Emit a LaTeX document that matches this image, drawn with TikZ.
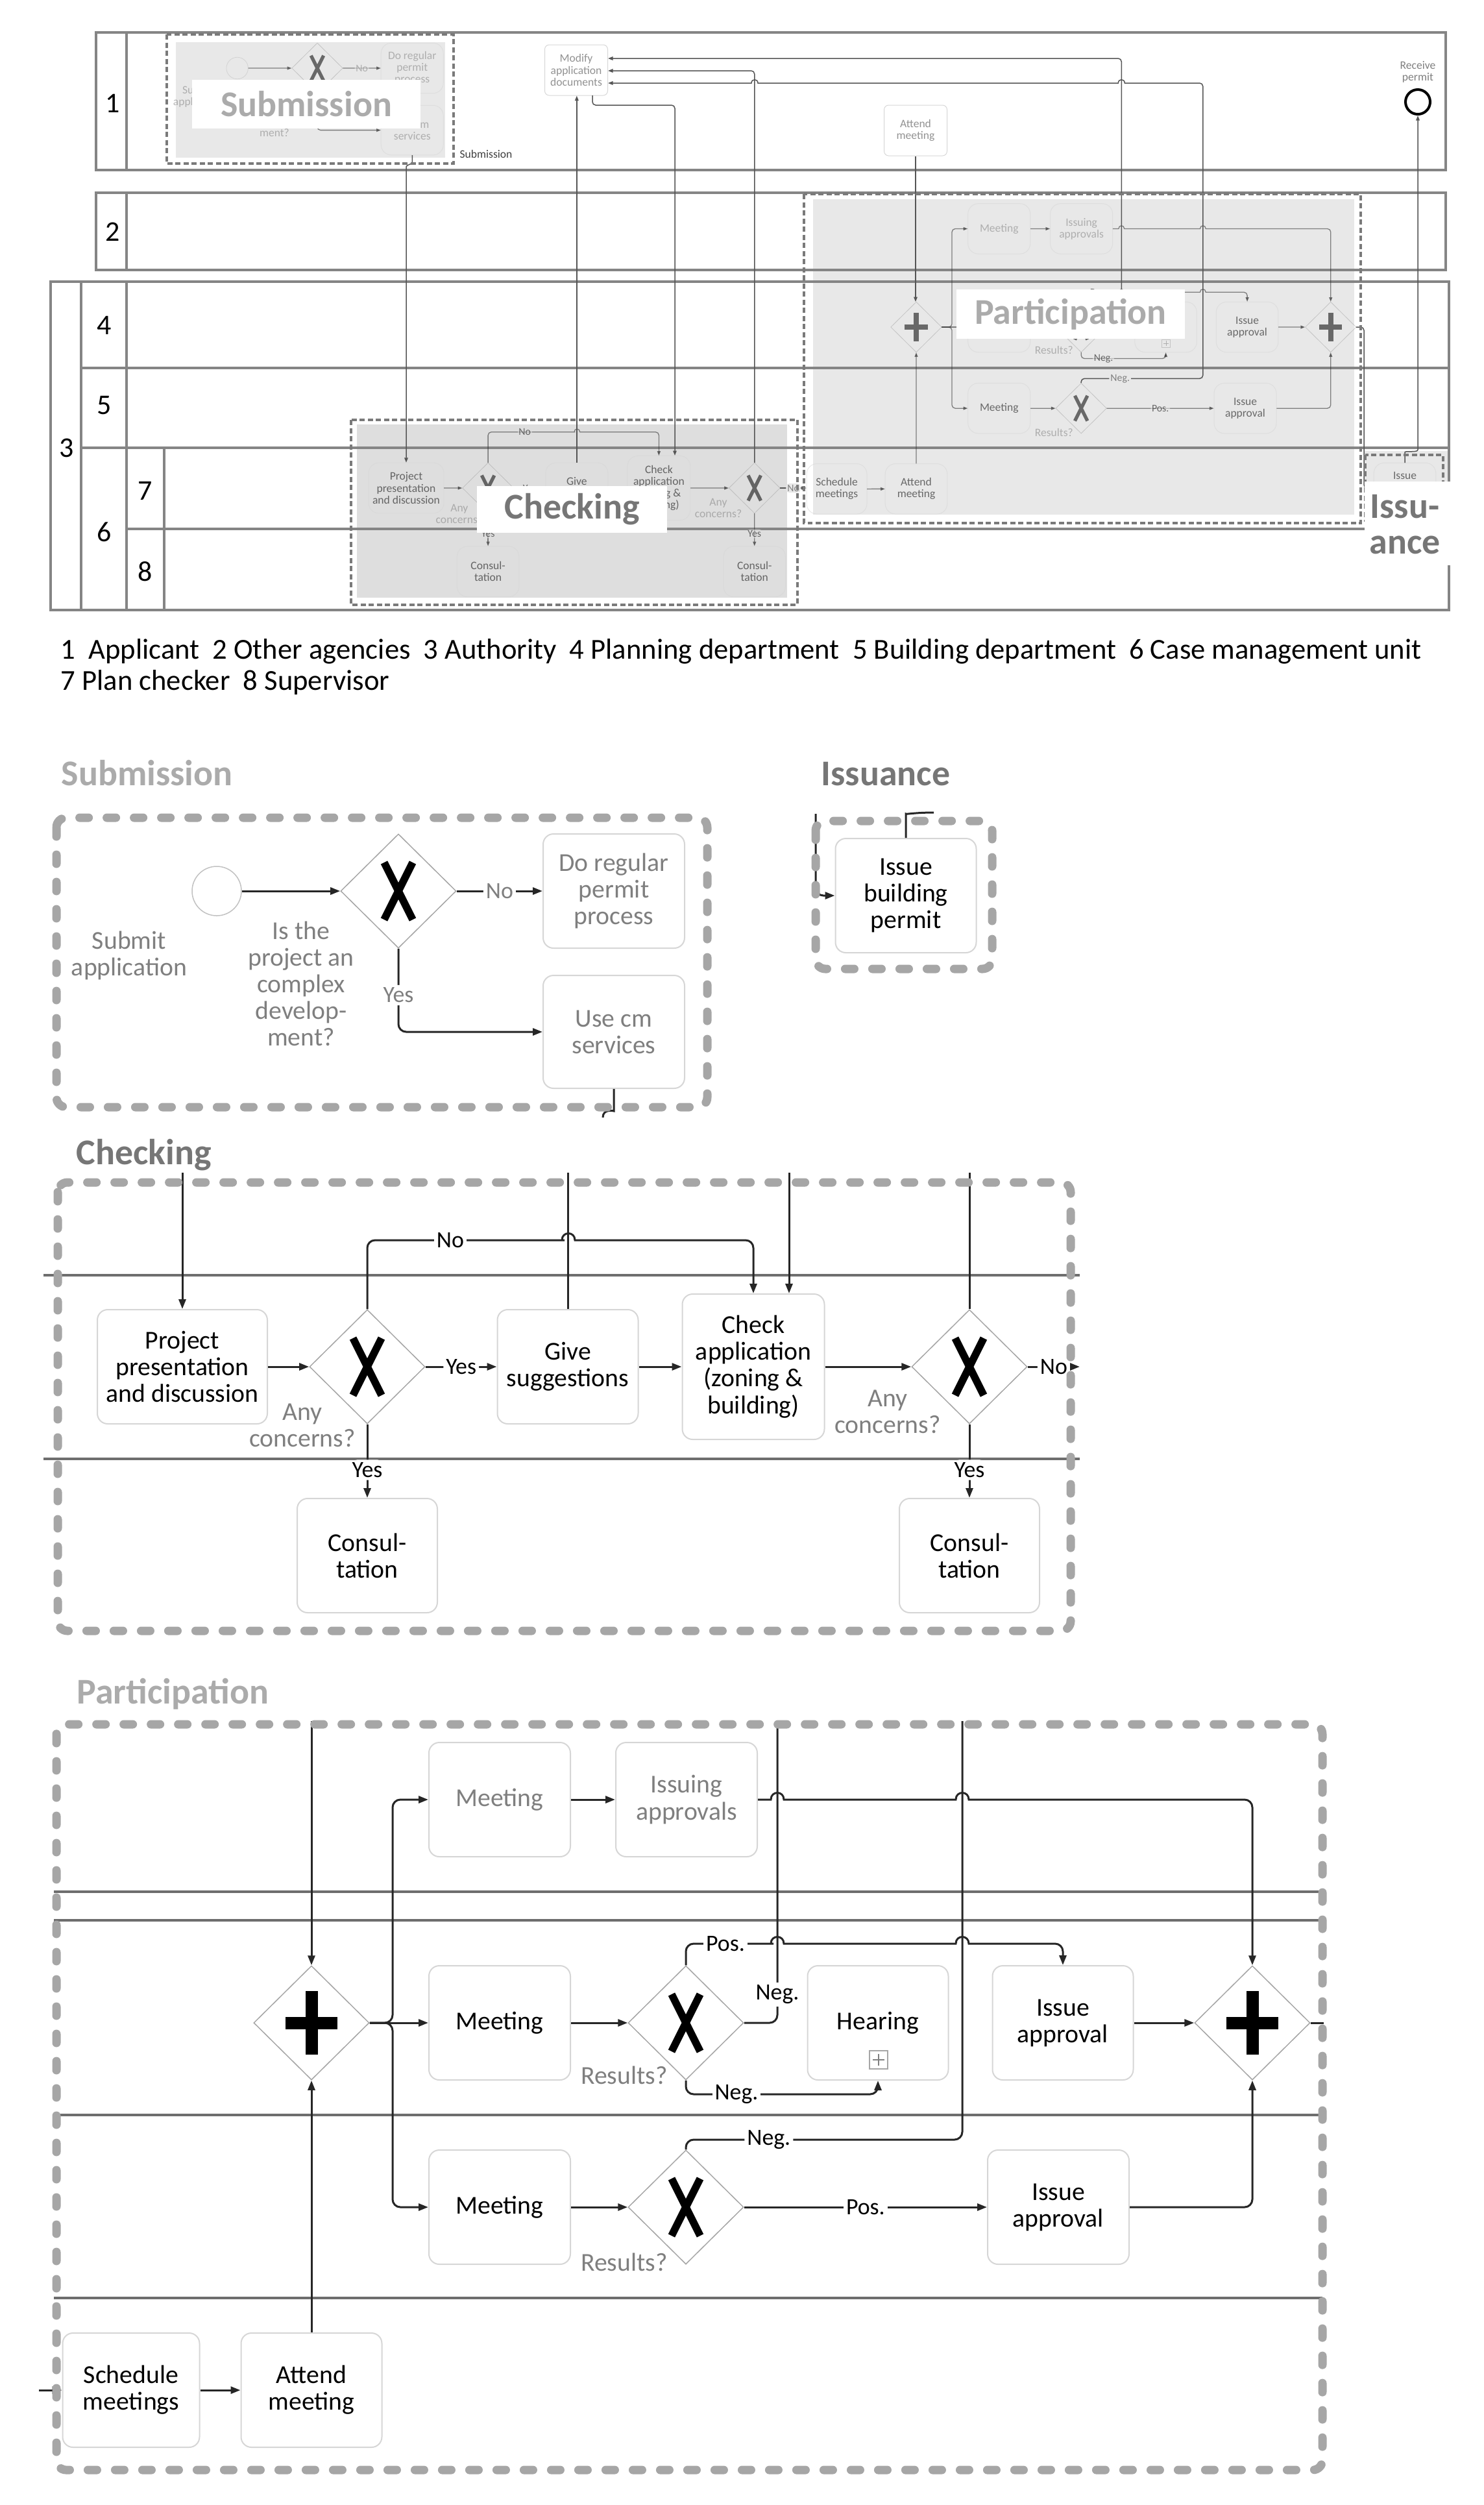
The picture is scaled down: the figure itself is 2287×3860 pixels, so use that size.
\documentclass[tikz,border=0pt]{standalone}
\usepackage{fontspec}
\setmainfont{Carlito}
\usetikzlibrary{shapes.geometric,arrows.meta}
\definecolor{tgrey}{HTML}{7F7F7F}
\definecolor{lanec}{HTML}{858585}
\definecolor{dlane}{HTML}{6E6E6E}
\definecolor{nodeb}{HTML}{D6D6D6}
\definecolor{gwb}{HTML}{A6A6A6}
\definecolor{dashc}{HTML}{A6A6A6}
\definecolor{odashc}{HTML}{7A7A7A}
\definecolor{conc}{HTML}{262626}
\definecolor{oconc}{HTML}{555555}
\definecolor{ofill}{HTML}{E8E8E8}
\definecolor{cfill}{HTML}{DEDEDE}
\definecolor{hlight}{HTML}{ABABAB}
\definecolor{hdark}{HTML}{767676}

\newcommand\taskfont{\fontsize{11.3pt}{11.7pt}\selectfont}
\newcommand\lblfont{\fontsize{10.2pt}{10.6pt}\selectfont}
\newcommand\headfont{\fontsize{15.9pt}{15.7pt}\selectfont\bfseries}
\newcommand\osmall{\fontsize{5pt}{5.25pt}\selectfont}
\newcommand\olblfont{\fontsize{4.5pt}{4.8pt}\selectfont}
\newcommand\legfont{\fontsize{12.7pt}{14pt}\selectfont}
\newcommand\numfont{\fontsize{12.5pt}{13pt}\selectfont}

\newcommand\detailmode{%
  \def\clw{0.3mm}\def\al{1.5mm}\def\aw{1.1mm}\def\rc{1.2mm}%
  \def\nlw{0.2mm}\def\nfill{white}\def\lblbg{white}\def\gwlw{0.15mm}%
  \def\xlw{1.15mm}\def\plw{1.9mm}}
\newcommand\overmode[1]{%
  \def\clw{0.13mm}\def\al{0.7mm}\def\aw{0.5mm}\def\rc{0.5mm}%
  \def\nlw{0.1mm}\def\nfill{none}\def\lblbg{#1}\def\gwlw{0.08mm}%
  \def\xlw{0.52mm}\def\plw{0.84mm}}

\tikzset{
  pool/.style={draw=lanec, line width=0.35mm},
  dlanel/.style={draw=dlane, line width=0.45mm},
  task/.style={draw=nodeb, line width=\nlw, fill=\nfill, rounded corners=1.6mm,
    align=center, inner sep=0pt, font=\taskfont, text=black,
    minimum width=21.8mm, minimum height=17.6mm},
  gtask/.style={text=tgrey},
  gw/.style={diamond, draw=gwb, line width=\gwlw, fill=\nfill,
    minimum width=17.8mm, minimum height=17.6mm, inner sep=0pt},
  conn/.style={draw=conc, line width=\clw, rounded corners=\rc,
    -{Triangle[length=\al,width=\aw]}},
  cline/.style={draw=conc, line width=\clw, rounded corners=\rc},
  elbl/.style={fill=\lblbg, inner sep=0.4mm, font=\lblfont, text=black},
  glbl/.style={align=center, inner sep=0pt, font=\taskfont, text=tgrey},
  oconn/.style={draw=oconc, line width=0.15mm, rounded corners=0.5mm,
    -{Triangle[length=0.75mm,width=0.55mm]}},
  olbl/.style={fill=ofill, inner sep=0.2mm, font=\olblfont, text=tgrey},
  otask/.style={draw=nodeb, line width=0.1mm, rounded corners=0.7mm, align=center,
    inner sep=0pt, font=\osmall, text=tgrey!85, minimum width=9.7mm, minimum height=7.8mm},
  ddash/.style={draw=dashc, line width=1.3mm, line cap=round,
    dash pattern=on 1.4mm off 2.8mm, rounded corners=1.5mm},
  odash/.style={draw=odashc, line width=0.45mm, dash pattern=on 0.8mm off 0.45mm},
  lanenum/.style={font=\numfont, inner sep=0pt},
  xgate/.pic={\node[gw] (-n) {};
    \draw[line width=\xlw, draw=black] (-22,-44) -- (22,44) (-22,44) -- (22,-44);},
  pgate/.pic={\node[gw] (-n) {};
    \draw[line width=\plw, draw=black] (0,-49) -- (0,49) (-40,0) -- (40,0);},
}

% ---------------- content of the four sub-processes (detail coordinates)
\newcommand\subcontent[1]{%
  \node[circle, draw=gwb!70, line width=\gwlw, fill=\nfill, minimum size=7.6mm, inner sep=0pt] (#1start) at (334,1373) {};
  \node[glbl] (#1sublbl) at (199,1472) {Submit\\application};
  \pic (#1gw) at (614,1373) {xgate};
  \node[glbl] (#1q) at (464,1516) {Is the\\project an\\complex\\develop-\\ment?};
  \node[task,gtask] (#1reg) at (946,1373) {Do regular\\permit\\process};
  \node[task,gtask,minimum height=17.4mm] (#1usecm) at (946,1590) {Use cm\\services};
  \draw[conn] (#1start) -- (#1gw-n);
  \draw[conn] (#1gw-n) -- node[elbl,text=tgrey] (#1lno) {No} (#1reg);
  \draw[conn] (#1gw-n) |- node[elbl,text=tgrey,pos=0.28] (#1lyes) {Yes} (#1usecm);
}
\newcommand\chkcontent[1]{%
  \node[task,minimum width=26.2mm] (#1proj) at (281,2106) {Project\\presentation\\and discussion};
  \pic (#1gw1) at (566,2106) {xgate};
  \node[task,minimum width=21.7mm] (#1give) at (875,2106) {Give\\suggestions};
  \node[task,minimum width=21.9mm,minimum height=22.4mm] (#1check) at (1161,2106) {Check\\application\\(zoning \&\\building)};
  \pic (#1gw2) at (1494,2106) {xgate};
  \node[task,minimum width=21.6mm] (#1cons1) at (566,2397) {Consul-\\tation};
  \node[task,minimum width=21.6mm] (#1cons2) at (1494,2397) {Consul-\\tation};
  \node[glbl] (#1ac1) at (466,2196) {Any\\concerns?};
  \node[glbl] (#1ac2) at (1368,2175) {Any\\concerns?};
  \draw[conn] (#1proj) -- (#1gw1-n);
  \draw[conn] (#1gw1-n) -- node[elbl] (#1lyes1) {Yes} (#1give);
  \draw[conn] (#1give) -- (#1check);
  \draw[conn] (#1check) -- (#1gw2-n);
  \draw[conn] (#1gw1-n) -- node[elbl,pos=0.62] (#1lyes2) {Yes} (#1cons1);
  \draw[conn] (#1gw2-n) -- node[elbl,pos=0.62] (#1lyes3) {Yes} (#1cons2);
  \draw[conn] (#1gw1-n.north) |- (858,1911) [sharp corners] -- (866,1911)
     .. controls (866,1897) and (886,1897) .. (886,1911) -- (894,1911)
     [rounded corners=\rc] -| (#1check.north);
  \node[elbl] (#1lno1) at (694,1911) {No};
}
\newcommand\partcontent[1]{%
  \node[task,gtask] (#1mt2) at (770,2773) {Meeting};
  \node[task,gtask] (#1iss) at (1058,2773) {Issuing\\approvals};
  \pic (#1pg1) at (480,3117) {pgate};
  \node[task] (#1mt4) at (770,3117) {Meeting};
  \pic (#1gw4) at (1057,3117) {xgate};
  \node[task,minimum width=21.7mm] (#1hear) at (1353,3117) {Hearing};
  \node[draw=gwb, line width=\gwlw, minimum size=2.8mm, inner sep=0pt] (#1hm) at (1354,3174) {};
  \draw[draw=gray, line width=\gwlw] (1354,3165) -- (1354,3183) (1345,3174) -- (1363,3174);
  \node[task,minimum width=21.7mm] (#1iaf) at (1638,3117) {Issue\\approval};
  \pic (#1pg2) at (1930,3117) {pgate};
  \node[task] (#1mt5) at (770,3401) {Meeting};
  \pic (#1gw5) at (1057,3401) {xgate};
  \node[task] (#1iaf5) at (1631,3401) {Issue\\approval};
  \node[task,minimum width=21.1mm] (#1sched) at (202,3683) {Schedule\\meetings};
  \node[task,minimum width=21.7mm] (#1att) at (480,3683) {Attend\\meeting};
  \node[glbl] (#1res4) at (962,3198) {Results?};
  \node[glbl] (#1res5) at (962,3486) {Results?};
  \coordinate (#1hb) at (1353,3227);
  \draw[conn] (#1pg1-n.east) -- (605,3117) |- (#1mt2.west);
  \draw[conn] (#1pg1-n.east) -- (605,3117) |- (#1mt5.west);
  \draw[conn] (#1pg1-n.east) -- (#1mt4.west);
  \draw[conn] (#1mt2) -- (#1iss);
  \draw[conn] (#1iss.east) [sharp corners] -- (1188,2773)
     .. controls (1188,2759) and (1208,2759) .. (1208,2773) -- (1473,2773)
     .. controls (1473,2759) and (1493,2759) .. (1493,2773) -- (1500,2773)
     [rounded corners=\rc] -| (#1pg2-n.north);
  \draw[conn] (#1mt4) -- (#1gw4-n);
  \draw[conn] (#1gw4-n.north) |- (1180,2995) [sharp corners] -- (1188,2995)
     .. controls (1188,2981) and (1208,2981) .. (1208,2995) -- (1473,2995)
     .. controls (1473,2981) and (1493,2981) .. (1493,2995) -- (1500,2995)
     [rounded corners=\rc] -| (#1iaf.north);
  \node[elbl] (#1lpos4) at (1118,2995) {Pos.};
  \draw[conn] (#1gw4-n.south) |- (#1hb) -- (#1hear.south);
  \node[elbl] (#1lneg4b) at (1135,3227) {Neg.};
  \draw[conn] (#1iaf) -- (#1pg2-n);
  \draw[conn] (#1mt5) -- (#1gw5-n);
  \draw[conn] (#1gw5-n) -- node[elbl] (#1lpos5) {Pos.} (#1iaf5);
  \draw[conn] (#1iaf5.east) -| (#1pg2-n.south);
  \draw[conn] (#1sched) -- (#1att);
  \draw[conn] (#1att) -- (#1pg1-n);
}
\newcommand\isscontent[1]{%
  \node[task,minimum width=21.7mm] (#1issue) at (1396,1380) {Issue\\building\\permit};
}

\begin{document}
\begin{tikzpicture}[x=0.1mm,y=-0.1mm]
\useasboundingbox (0,0) rectangle (2287,3860);
\detailmode

% =============== OVERVIEW ===============
\fill[ofill] (271,65) rectangle (686,243);
\fill[cfill] (550,654) rectangle (1213,921);
\fill[ofill] (1253,307) rectangle (2087,793);
\fill[ofill] (2103,695) rectangle (2232,800);

\draw[pool] (148,50) rectangle (2228,262) (195,50) -- (195,262);
\draw[pool] (148,297) rectangle (2228,416) (195,297) -- (195,416);
\draw[pool] (78,434) rectangle (2233,940);
\draw[pool] (125,434) -- (125,940) (195,434) -- (195,940) (253,690) -- (253,940);
\draw[pool] (125,567) -- (2233,567) (125,690) -- (2233,690) (195,815) -- (2233,815);

\node[lanenum] (n1) at (174,159) {1};
\node[lanenum] (n2) at (174,357) {2};
\node[lanenum] (n3) at (103,690) {3};
\node[lanenum] (n4) at (161,501) {4};
\node[lanenum] (n5) at (161,625) {5};
\node[lanenum] (n6) at (161,820) {6};
\node[lanenum] (n7) at (224,756) {7};
\node[lanenum] (n8) at (224,881) {8};

\node[otask] (mod) at (888,108) {Modify\\application\\documents};
\node[otask] (att1) at (1411,201) {Attend\\meeting};
\node[font=\osmall, text=tgrey, align=center, inner sep=0pt] (rptxt) at (2185,111) {Receive\\permit};
\node[circle, draw=black, line width=0.4mm, minimum size=3.8mm, inner sep=0pt] (rp) at (2185,157) {};
\node[font=\osmall, text=black!75, inner sep=0pt] (subsm) at (749,237) {Submission};

\begin{scope}[shift={(489,105)},scale=0.4405,shift={(-614,-1373)},transform shape,opacity=0.55]
  \overmode{ofill}\subcontent{oS}
\end{scope}
\begin{scope}[shift={(626,752)},scale=0.4425,shift={(-281,-2106)},transform shape,opacity=0.55]
  \overmode{cfill}\chkcontent{oC}
\end{scope}
\begin{scope}[shift={(1412,504)},scale=0.4405,shift={(-480,-3117)},transform shape,opacity=0.55]
  \overmode{ofill}\partcontent{oP}
\end{scope}
\begin{scope}[shift={(2165,752)},scale=0.4405,shift={(-1396,-1380)},transform shape,opacity=0.55]
  \overmode{ofill}\isscontent{oI}
\end{scope}

% overview connectors
\coordinate (m1) at (937,90);
\coordinate (m2) at (937,109);
\coordinate (m3) at (937,128);
\coordinate (modout) at (913,147);
\coordinate (ochkin) at (1040,702);
\draw[oconn] (oSusecm.south) -- ++(0,6) .. controls +(0,8) and +(0,-8) .. (626,262) -- (oCproj.north);
\draw[oconn] (oCgive.north) -- (oCgive.north |- mod.south);
\draw[oconn] (modout) -- (913,162) -| (ochkin);
\draw[oconn] (oCgw2-n.north) |- (m2);
\draw[oconn] (oPgw4-n.east) -| node[olbl,pos=0.523] (on4) {Neg.} (1728.3,90) -- (m1);
\draw[oconn] (oPgw5-n.north) |- node[olbl,pos=0.66] (on5) {Neg.} (1853.8,583.3) -- (1853.8,128)
   -- (1740,128) [sharp corners] -- (1733.3,128) .. controls (1733.3,121) and (1723.3,121) .. (1723.3,128)
   -- (1168,128) .. controls (1168,121) and (1158,121) .. (1158,128) -- (m3);
\draw[oconn] (att1.south) -- (att1.south |- oPpg1-n.north);
\draw[oconn] (oCgw2-n.east) -- node[olbl] (onoc) {No} (oCgw2-n.east -| oPsched.west);
\draw[oconn] (oPpg2-n.east) -- (2102,504) |- (oIissue.west);
\draw[oconn] (oIissue.north) -- (2165,702) .. controls (2165,694) and (2185,698) .. (2185,688) -- (rp.south);

% overview dashed borders
\draw[odash] (257,53) rectangle (699,252);
\draw[odash] (541,647) rectangle (1229,932);
\draw[odash] (1239,299) rectangle (2097,806);
\draw[odash] (2104,701) rectangle (2224,802);

% overview labels
\node[fill=white, minimum width=35.2mm, minimum height=7.5mm, font=\headfont, text=hlight] (osl) at (472,160.5) {Submission};
\node[fill=white, minimum width=29.3mm, minimum height=7.2mm, font=\headfont, text=hdark] (ocl) at (881.5,785) {Checking};
\node[fill=white, minimum width=35.2mm, minimum height=7.6mm, font=\headfont, text=hlight] (opl) at (1650,484) {Participation};
\fill[white] (2103,742) rectangle (2240,871);
\node[font=\headfont, text=hdark, align=center, inner sep=0pt] (oil) at (2165,808) {Issu-\\ance};

% legend
\node[anchor=base west, font=\legfont, inner sep=0pt] (leg1) at (93,1015)
  {1~~Applicant~~2 Other agencies~~3 Authority~~4 Planning department~~5 Building department~~6 Case management unit};
\node[anchor=base west, font=\legfont, inner sep=0pt] (leg2) at (93,1063)
  {7 Plan checker~~8 Supervisor};

% =============== SUBMISSION / ISSUANCE DETAIL ===============
\node[anchor=base west, font=\headfont, text=hlight, inner sep=0pt] (hsub) at (94,1210) {Submission};
\node[anchor=base west, font=\headfont, text=hdark, inner sep=0pt] (hiss) at (1265,1210) {Issuance};
\subcontent{dS}
\coordinate (dSout) at (929,1722);
\draw[cline] (dSusecm.south) -- (946,1700) .. controls (946,1712) and (929,1708) .. (dSout);
\draw[ddash] (87,1260) rectangle (1090,1706);

\isscontent{dI}
\coordinate (dIin) at (1257,1254);
\draw[conn] (dIin) |- (dIissue.west);
\coordinate (dIout) at (1439,1252);
\draw[cline] (dIissue.north) -- (1396,1266) .. controls (1396,1255) and (1410,1252) .. (dIout);
\draw[ddash] (1257,1265) rectangle (1529,1493);

% =============== CHECKING DETAIL ===============
\node[anchor=base west, font=\headfont, text=hdark, inner sep=0pt] (hchk) at (117,1794) {Checking};
\draw[dlanel] (67,1965) -- (1664,1965) (67,2248) -- (1664,2248);
\chkcontent{dC}
\coordinate (dCt1) at (281,1807);
\draw[conn] (dCt1) -- (dCproj.north);
\coordinate (dCt2) at (875,1807);
\draw[cline] (dCgive.north) -- (dCt2);
\coordinate (dCt3) at (1216,1807);
\coordinate (dCin3) at (1216,1993);
\draw[conn] (dCt3) -- (dCin3);
\coordinate (dCt4) at (1494,1807);
\draw[cline] (dCgw2-n.north) -- (dCt4);
\coordinate (dCno) at (1664,2106);
\draw[conn] (dCgw2-n.east) -- node[elbl] (dClno) {No} (dCno);
\draw[ddash] (89,1822) rectangle (1650,2513);

% =============== PARTICIPATION DETAIL ===============
\node[anchor=base west, font=\headfont, text=hlight, inner sep=0pt] (hpart) at (118,2625) {Participation};
\draw[dlanel] (83,2915) -- (2038,2915) (83,2959) -- (2038,2959) (83,3259) -- (2038,3259) (83,3541) -- (2038,3541);
\partcontent{dP}
\coordinate (dPt1) at (480,2652);
\draw[conn] (dPt1) -- (dPpg1-n.north);
\coordinate (dPt2) at (1198,2652);
\draw[cline] (dPgw4-n.east) -| node[elbl,pos=0.547] (dPn4) {Neg.} (dPt2);
\coordinate (dPt3) at (1483,2652);
\draw[cline] (dPgw5-n.north) |- node[elbl,pos=0.65] (dPn5) {Neg.} (1483,3297) -- (dPt3);
\coordinate (dPout) at (2040,3117);
\draw[cline] (dPpg2-n.east) -- (dPout);
\coordinate (dPin) at (60,3683);
\draw[conn] (dPin) -- (dPsched.west);
\draw[ddash] (87,2657) rectangle (2038,3806);
\end{tikzpicture}
\end{document}
